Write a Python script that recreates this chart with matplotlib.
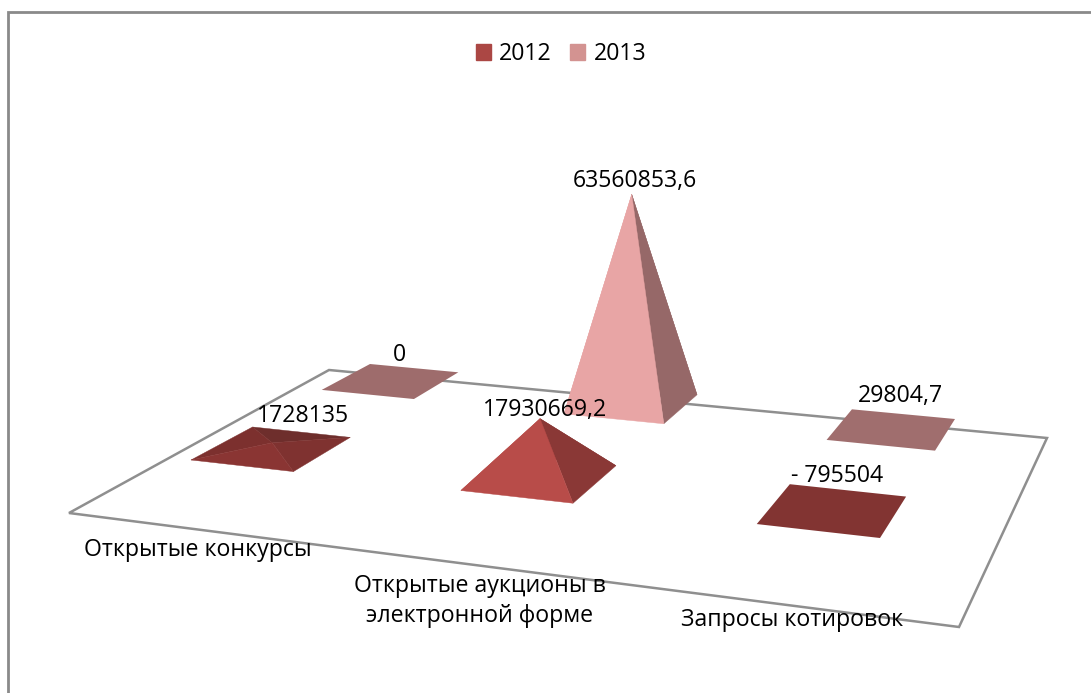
import numpy as np
import matplotlib
matplotlib.use('Agg')
import matplotlib.pyplot as plt
from matplotlib.patches import Polygon, Rectangle, Patch

plt.rcParams['font.family'] = ['Open Sans', 'DejaVu Sans']

# data
categories = ['Открытые конкурсы', 'Открытые аукционы в\nэлектронной форме', 'Запросы котировок']
years = ['2012', '2013']
values_2012 = [1728135, 17930669.2, -795504]
values_2013 = [0, 63560853.6, 29804.7]
labels_2012 = ['1728135', '17930669,2', '- 795504']
labels_2013 = ['0', '63560853,6', '29804,7']

legend_colors = ['#ab4744', '#d39391']
# face colours per pyramid: front, right, left, back
faces_2012 = [('#8a3533', '#7f3230', '#7c302e', '#6e2e2c'),
              ('#b84c49', '#8a3836', '#b84c49', '#8a3836'),
              ('#823432', '#823432', '#823432', '#823432')]
faces_2013 = [('#9e6c6c', '#9e6c6c', '#9e6c6c', '#9e6c6c'),
              ('#e8a5a5', '#966868', '#e8a5a5', '#966868'),
              ('#a06e6e', '#a06e6e', '#a06e6e', '#a06e6e')]

# floor outline in picture pixels: front-left, front-right, back-right, back-left
floor = np.array([[69, 513], [959, 627], [1047, 438], [329, 370]], dtype=float)
# where the outer corners of the pyramid grid land on the picture
grid_corners = np.array([[191, 460], [880, 538], [955, 419], [370, 364]], dtype=float)
px_per_unit = 3.3e-6
half_w = 0.195
half_d = 0.22


def make_homography(src, dst):
    A = []
    b = []
    for (x, y), (X, Y) in zip(src, dst):
        A.append([x, y, 1, 0, 0, 0, -x*X, -y*X])
        A.append([0, 0, 0, x, y, 1, -x*Y, -y*Y])
        b += [X, Y]
    h = np.linalg.solve(np.array(A), np.array(b))
    return np.append(h, 1).reshape(3, 3)


H = make_homography([(-half_w, -half_d), (2+half_w, -half_d), (2+half_w, 1+half_d), (-half_w, 1+half_d)],
                    grid_corners)


def project(u, v):
    p = H @ np.array([u, v, 1.0])
    return p[:2] / p[2]


def draw_pyramid(ax, i, j, value, colors):
    fl = project(i-half_w, j-half_d)
    fr = project(i+half_w, j-half_d)
    br = project(i+half_w, j+half_d)
    bl = project(i-half_w, j+half_d)
    apex = project(i, j) - np.array([0, value*px_per_unit])
    front, right, left, back = colors
    # too low to show any faces, only the base is seen
    if abs(value*px_per_unit) < 1 or value < 0:
        ax.add_patch(Polygon([fl, fr, br, bl], color=front, lw=0, zorder=3))
        return
    for pts, c in [((bl, br, apex), back), ((fl, bl, apex), left),
                   ((fr, br, apex), right), ((fl, fr, apex), front)]:
        ax.add_patch(Polygon(pts, facecolor=c, edgecolor=c, lw=0.3, zorder=3))


fig = plt.figure(figsize=(10.91, 6.93), dpi=100)
ax = fig.add_axes([0, 0, 1, 1])
ax.set_xlim(0, 1091)
ax.set_ylim(693, 0)
ax.axis('off')

# chart frame runs off the right and bottom of the picture
ax.add_patch(Rectangle((8, 12), 1200, 800, facecolor='white', edgecolor='#8a8a8a', lw=2, zorder=0))
ax.add_patch(Polygon(floor, facecolor='white', edgecolor='#8f8f8f', lw=1.8, zorder=1))

for i in range(3):
    draw_pyramid(ax, i, 1, values_2013[i], faces_2013[i])
for i in range(3):
    draw_pyramid(ax, i, 0, values_2012[i], faces_2012[i])

fs = 16.7
pos_2012 = [(303, 416), (545, 410), (837, 476)]
pos_2013 = [(399, 355), (635, 181), (900, 396)]
for txt, (x, y) in zip(labels_2012 + labels_2013, pos_2012 + pos_2013):
    ax.text(x, y, txt, ha='center', va='center', fontsize=fs, color='black', zorder=5)

cat_pos = [(198, 550), (480, 601), (792, 620)]
for txt, (x, y) in zip(categories, cat_pos):
    ax.text(x, y, txt, ha='center', va='center', fontsize=fs, color='black', zorder=5, linespacing=1.3)

handles = [Patch(color=c, label=y) for c, y in zip(legend_colors, years)]
ax.legend(handles=handles, loc='center', bbox_to_anchor=(561, 54), bbox_transform=ax.transData,
          ncol=2, frameon=False, fontsize=fs, handlelength=0.65, handleheight=0.65,
          handletextpad=0.35, columnspacing=0.8)

fig.savefig('out.png', dpi=100)
